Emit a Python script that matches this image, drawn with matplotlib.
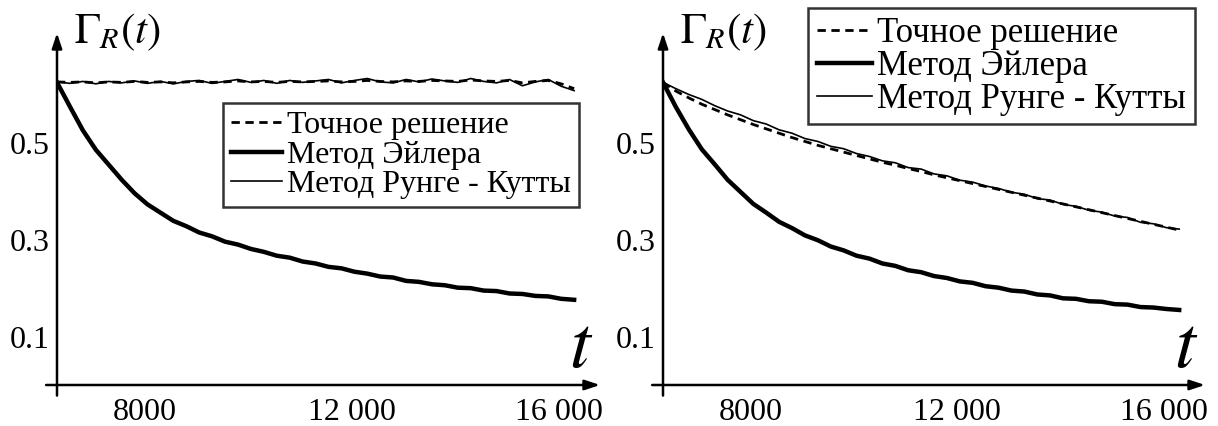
import numpy as np
import matplotlib
matplotlib.use("Agg")
import matplotlib.pyplot as plt

plt.rcParams["font.family"] = ["Liberation Serif", "DejaVu Serif"]
plt.rcParams["mathtext.fontset"] = "stix"

# Время (общая сетка для обеих панелей)
t = [6300, 6550, 6800, 7050, 7300, 7550, 7800, 8050, 8300, 8550,
     8800, 9050, 9300, 9550, 9800, 10050, 10300, 10550, 10800, 11050,
     11300, 11550, 11800, 12050, 12300, 12550, 12800, 13050, 13300, 13550,
     13800, 14050, 14300, 14550, 14800, 15050, 15300, 15550, 15800, 16050,
     16300]

# Левая панель
left_exact = [0.626, 0.625, 0.626, 0.624, 0.626, 0.625, 0.627, 0.625, 0.626, 0.624,
              0.626, 0.627, 0.625, 0.626, 0.628, 0.626, 0.627, 0.625, 0.627, 0.626,
              0.627, 0.628, 0.626, 0.627, 0.629, 0.627, 0.626, 0.628, 0.627, 0.629,
              0.628, 0.627, 0.630, 0.628, 0.627, 0.629, 0.624, 0.627, 0.629, 0.622,
              0.612]
left_rk = [0.626, 0.623, 0.627, 0.622, 0.627, 0.624, 0.628, 0.623, 0.627, 0.622,
           0.627, 0.629, 0.623, 0.627, 0.631, 0.625, 0.629, 0.623, 0.629, 0.625,
           0.628, 0.631, 0.624, 0.629, 0.633, 0.626, 0.624, 0.631, 0.626, 0.632,
           0.628, 0.625, 0.633, 0.627, 0.624, 0.631, 0.618, 0.626, 0.631, 0.617,
           0.608]
left_euler = [0.625, 0.575, 0.526, 0.486, 0.455, 0.424, 0.396, 0.373, 0.356, 0.339,
              0.328, 0.315, 0.307, 0.296, 0.290, 0.281, 0.275, 0.267, 0.263, 0.255,
              0.251, 0.244, 0.241, 0.234, 0.230, 0.224, 0.222, 0.215, 0.213, 0.208,
              0.206, 0.201, 0.200, 0.195, 0.194, 0.189, 0.188, 0.184, 0.183, 0.178,
              0.176]

# Правая панель
right_exact = [0.625, 0.607, 0.593, 0.580, 0.569, 0.558, 0.548, 0.538, 0.529, 0.520,
               0.511, 0.503, 0.495, 0.488, 0.481, 0.474, 0.467, 0.460, 0.454, 0.447,
               0.441, 0.434, 0.428, 0.422, 0.416, 0.410, 0.404, 0.398, 0.392, 0.386,
               0.380, 0.374, 0.368, 0.362, 0.356, 0.350, 0.344, 0.338, 0.332, 0.326,
               0.320]
right_rk = [0.625, 0.612, 0.600, 0.590, 0.577, 0.566, 0.558, 0.546, 0.539, 0.527,
            0.520, 0.509, 0.503, 0.493, 0.488, 0.478, 0.472, 0.463, 0.459, 0.449,
            0.446, 0.436, 0.432, 0.423, 0.419, 0.411, 0.406, 0.398, 0.394, 0.385,
            0.382, 0.373, 0.369, 0.361, 0.357, 0.349, 0.346, 0.336, 0.333, 0.325,
            0.322]
right_euler = [0.625, 0.574, 0.528, 0.487, 0.456, 0.424, 0.399, 0.374, 0.356, 0.337,
               0.324, 0.309, 0.299, 0.286, 0.278, 0.267, 0.261, 0.251, 0.246, 0.237,
               0.233, 0.225, 0.221, 0.214, 0.211, 0.204, 0.201, 0.195, 0.193, 0.187,
               0.185, 0.179, 0.178, 0.173, 0.172, 0.167, 0.166, 0.161, 0.160, 0.157,
               0.155]

x_ticks = [8000, 12000, 16000]
x_tick_labels = ["8000", "12 000", "16 000"]
y_ticks = [0.1, 0.3, 0.5]
y_tick_labels = ["0.1", "0.3", "0.5"]
legend_labels = ["Точное решение", "Метод Эйлера", "Метод Рунге - Кутты"]

W, H = 1218, 426


def draw_panel(ax, exact, euler, rk, legend_xy, legend_size):
    l1, = ax.plot(t, exact, color="black", lw=2.0, ls=(0, (3, 2)))
    l3, = ax.plot(t, rk, color="black", lw=1.2)
    l2, = ax.plot(t, euler, color="black", lw=3.2)

    ax.set_xlim(6300, 16800)
    ax.set_ylim(0, 0.727)
    for s in ax.spines.values():
        s.set_visible(False)

    ax.set_xticks(x_ticks)
    ax.set_xticklabels(x_tick_labels)
    ax.set_yticks(y_ticks)
    ax.set_yticklabels(y_tick_labels)
    ax.tick_params(length=0, labelsize=23, pad=9)
    ax.tick_params(axis="y", pad=5)

    # оси со стрелками
    arrow = dict(arrowstyle="-|>,head_length=0.9,head_width=0.3",
                 color="black", lw=1.8, shrinkA=0, shrinkB=0)
    ax.annotate("", xy=(1.0, 0), xytext=(-0.02, 0),
                xycoords="axes fraction", arrowprops=arrow)
    ax.annotate("", xy=(0, 1.0), xytext=(0, -0.03),
                xycoords="axes fraction", arrowprops=arrow)

    ax.text(0.032, 1.06, r"$\Gamma_R(t)$", transform=ax.transAxes,
            fontsize=31, ha="left", va="top")
    ax.text(0.965, 0.05, r"$t$", transform=ax.transAxes,
            fontsize=54, ha="center", va="baseline")

    leg = ax.legend([l1, l2, l3], legend_labels, loc="upper left",
                    bbox_to_anchor=legend_xy, bbox_transform=ax.figure.transFigure,
                    fontsize=legend_size, frameon=True, fancybox=False,
                    handlelength=1.6, handletextpad=0.15, borderpad=0.25,
                    labelspacing=0.0, borderaxespad=0)
    leg.get_frame().set_edgecolor("black")
    leg.get_frame().set_linewidth(1.8)


fig = plt.figure(figsize=(W / 100, H / 100), dpi=100)
ax1 = fig.add_axes([57 / W, 41 / H, 543 / W, 352 / H])
ax2 = fig.add_axes([663 / W, 41 / H, 542 / W, 352 / H])

draw_panel(ax1, left_exact, left_euler, left_rk, (223 / W, 1 - 103 / H), 23)
draw_panel(ax2, right_exact, right_euler, right_rk, (808 / W, 1 - 8 / H), 25)

fig.savefig("out.png", dpi=100)
